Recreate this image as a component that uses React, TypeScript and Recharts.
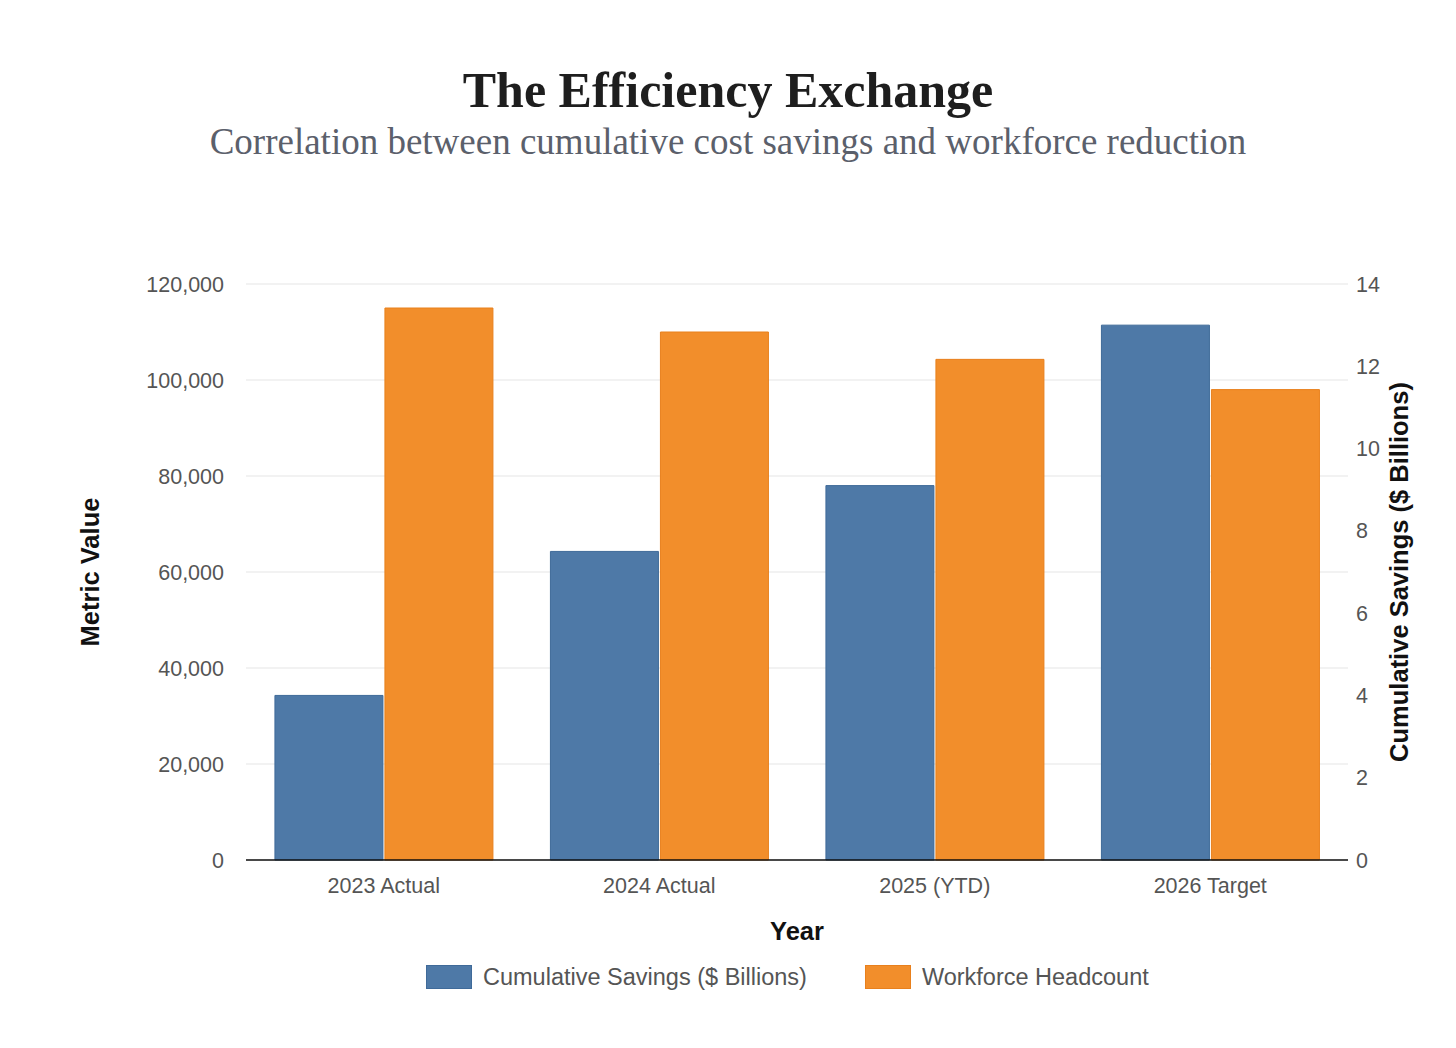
import React from "react";
import { BarChart, Bar, XAxis, YAxis, CartesianGrid } from "recharts";

const years = ["2023 Actual", "2024 Actual", "2025 (YTD)", "2026 Target"];
const savings = [4.0, 7.5, 9.1, 13.0];
const headcount = [115000, 110000, 104300, 98000];
const leftTicks = [0, 20000, 40000, 60000, 80000, 100000, 120000];
const rightTicks = [0, 2, 4, 6, 8, 10, 12, 14];

const data = years.map((year, i) => ({
  year,
  savings: savings[i],
  headcount: headcount[i],
}));

const BLUE = "#4e79a7";
const BLUE_EDGE = "#3f6a99";
const ORANGE = "#f28e2b";
const ORANGE_EDGE = "#e8801d";
const TICK = { fill: "#555", fontSize: 21.5 };
const AXIS_TITLE = { fill: "#111", fontSize: 25.5, fontWeight: 700 };

const legendItems = [
  { label: "Cumulative Savings ($ Billions)", fill: BLUE, edge: BLUE_EDGE },
  { label: "Workforce Headcount", fill: ORANGE, edge: ORANGE_EDGE },
];

export default function App() {
  return (
    <div
      style={{
        position: "relative",
        width: 1440,
        height: 1032,
        fontFamily: "'Liberation Sans', Arial, sans-serif",
      }}
    >
      <div
        style={{
          position: "absolute",
          top: 57,
          left: 0,
          width: 1440,
          textAlign: "center",
          fontFamily: "'Liberation Serif', serif",
          fontWeight: 700,
          fontSize: 50,
          lineHeight: "50px",
          color: "#1e1e1e",
        }}
      >
        The Efficiency Exchange
      </div>
      <div
        style={{
          position: "absolute",
          top: 115,
          left: 0,
          width: 1440,
          textAlign: "center",
          fontFamily: "'Liberation Serif', serif",
          fontSize: 37,
          lineHeight: "37px",
          color: "#5b606b",
        }}
      >
        Correlation between cumulative cost savings and workforce reduction
      </div>

      <div style={{ position: "absolute", top: 0, left: 0 }}>
        <BarChart
          width={1440}
          height={994}
          data={data}
          margin={{ top: 276, right: 40, bottom: 0, left: 158 }}
          barCategoryGap="10.5%"
          barGap={2}
        >
          <CartesianGrid vertical={false} stroke="#e5e5e5" yAxisId="left" />
          <XAxis
            dataKey="year"
            height={142}
            tickLine={false}
            tickSize={0}
            tickMargin={18}
            tick={TICK}
            axisLine={{ stroke: "#111", strokeWidth: 1.5 }}
            label={{ value: "Year", position: "center", ...AXIS_TITLE }}
          />
          <YAxis
            yAxisId="left"
            orientation="left"
            width={80}
            domain={[0, 120000]}
            ticks={leftTicks}
            tickFormatter={(v: number) => v.toLocaleString("en-US")}
            axisLine={false}
            tickLine={false}
            tickSize={0}
            tickMargin={22}
            tick={TICK}
            label={{
              value: "Metric Value",
              angle: -90,
              position: "center",
              dx: -116,
              ...AXIS_TITLE,
            }}
          />
          <YAxis
            yAxisId="right"
            orientation="right"
            width={60}
            domain={[0, 14]}
            ticks={rightTicks}
            axisLine={false}
            tickLine={false}
            tickSize={0}
            tickMargin={8}
            tick={{ ...TICK, textAnchor: "start" }}
            label={{
              value: "Cumulative Savings ($ Billions)",
              angle: -90,
              position: "center",
              dx: 21,
              ...AXIS_TITLE,
            }}
          />
          <Bar
            dataKey="savings"
            yAxisId="right"
            fill={BLUE}
            stroke={BLUE_EDGE}
            strokeWidth={1}
            isAnimationActive={false}
          />
          <Bar
            dataKey="headcount"
            yAxisId="left"
            fill={ORANGE}
            stroke={ORANGE_EDGE}
            strokeWidth={1}
            isAnimationActive={false}
          />
        </BarChart>
      </div>

      <div
        style={{
          position: "absolute",
          top: 957,
          left: 418,
          display: "flex",
          alignItems: "center",
          height: 24,
        }}
      >
        {legendItems.map((item, i) => (
          <div
            key={item.label}
            style={{
              display: "flex",
              alignItems: "center",
              marginLeft: i === 0 ? 0 : 58,
            }}
          >
            <div
              style={{
                width: 44,
                height: 22,
                background: item.fill,
                border: `1px solid ${item.edge}`,
                marginRight: 11,
              }}
            />
            <span style={{ fontSize: 23.5, color: "#555", lineHeight: "24px" }}>
              {item.label}
            </span>
          </div>
        ))}
      </div>
    </div>
  );
}
